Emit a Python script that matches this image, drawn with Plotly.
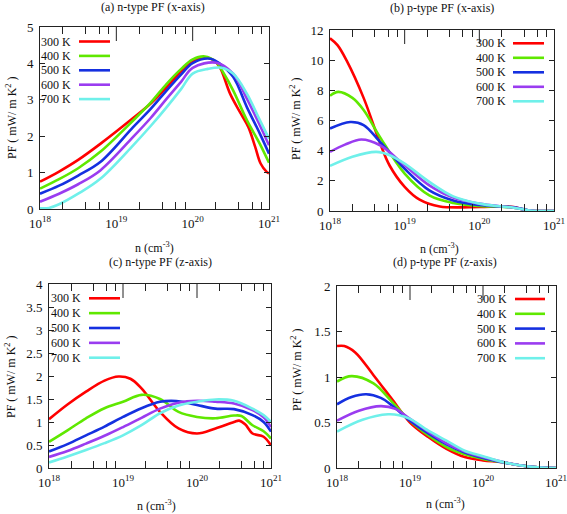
import plotly.graph_objects as go

W, H = 567, 514
TEMPS = ["300 K", "400 K", "500 K", "600 K", "700 K"]
COLORS = ["#ff0000", "#5fe800", "#1530e0", "#9a3cf0", "#6ff0ea"]

# ---- data: log10(n) exponents and PF values (mW/m K^2) ----
# (a) n-type, x-axis
A_X = [
    [18, 18.25, 18.5, 18.79, 19.22, 19.45, 19.66, 19.85, 20, 20.16, 20.28, 20.36, 20.49, 20.62, 20.73, 20.82, 20.89, 20.97, 21],
    [18, 18.25, 18.5, 18.79, 19.22, 19.45, 19.66, 19.85, 20, 20.16, 20.3, 20.4, 20.53, 20.71, 20.88, 21],
    [18, 18.25, 18.5, 18.79, 19.22, 19.45, 19.66, 19.85, 20, 20.23, 20.35, 20.53, 20.71, 20.88, 21],
    [18, 18.25, 18.5, 18.79, 19.22, 19.45, 19.66, 19.85, 20, 20.31, 20.53, 20.71, 20.88, 21],
    [18, 18.12, 18.25, 18.5, 18.79, 19.22, 19.45, 19.66, 19.85, 20, 20.2, 20.38, 20.53, 20.71, 20.88, 21],
]
A_Y = [
    [0.75, 1.03, 1.35, 1.79, 2.5, 2.9, 3.35, 3.78, 4.04, 4.17, 4.08, 3.88, 3.17, 2.66, 2.25, 1.7, 1.25, 1.02, 0.98],
    [0.56, 0.82, 1.12, 1.57, 2.43, 2.92, 3.44, 3.85, 4.11, 4.19, 4.05, 3.75, 3.26, 2.44, 1.79, 1.27],
    [0.42, 0.64, 0.92, 1.29, 2.25, 2.75, 3.26, 3.7, 4.01, 4.13, 4.0, 3.63, 2.8, 2.07, 1.52],
    [0.2, 0.42, 0.68, 1.06, 1.98, 2.5, 3.03, 3.5, 3.88, 4.02, 3.72, 3.03, 2.3, 1.75],
    [0.02, 0.03, 0.13, 0.42, 0.83, 1.75, 2.28, 2.8, 3.3, 3.72, 3.85, 3.88, 3.72, 3.17, 2.44, 1.93],
]
# (b) p-type, x-axis
B_X = [
    [18, 18.1, 18.22, 18.45, 18.67, 18.8, 19, 19.2, 19.47, 20, 20.3, 20.46, 20.6, 20.7, 21],
    [18, 18.11, 18.3, 18.45, 18.67, 19, 19.33, 19.65, 20, 20.3, 20.46, 20.65, 20.75, 21],
    [18, 18.27, 18.45, 18.67, 19, 19.33, 19.65, 20, 20.3, 20.46, 20.65, 20.75, 21],
    [18, 18.2, 18.42, 18.67, 19, 19.33, 19.65, 20, 20.3, 20.46, 20.65, 20.75, 21],
    [18, 18.3, 18.62, 18.8, 19, 19.33, 19.65, 20, 20.3, 20.46, 20.65, 20.75, 21],
]
B_Y = [
    [11.45, 11.0, 10.0, 7.5, 4.5, 3.0, 1.6, 0.75, 0.3, 0.27, 0.3, 0.27, 0.08, 0.02, 0.0],
    [7.64, 7.9, 7.5, 6.7, 4.9, 2.48, 1.04, 0.53, 0.33, 0.28, 0.22, 0.05, 0.0, 0.0],
    [5.47, 5.9, 5.7, 4.58, 2.8, 1.37, 0.7, 0.4, 0.3, 0.25, 0.05, 0.0, 0.0],
    [3.92, 4.4, 4.74, 4.36, 3.03, 1.7, 0.89, 0.49, 0.3, 0.22, 0.05, 0.0, 0.0],
    [2.99, 3.6, 3.92, 3.7, 3.14, 1.93, 0.97, 0.49, 0.3, 0.22, 0.05, 0.0, 0.0],
]
# (c) n-type, z-axis
C_X = [
    [18, 18.25, 18.5, 18.75, 18.94, 19.1, 19.25, 19.5, 19.75, 20, 20.25, 20.5, 20.57, 20.65, 20.75, 20.9, 21],
    [18, 18.25, 18.5, 18.75, 19, 19.25, 19.5, 19.75, 20, 20.25, 20.5, 20.6, 20.75, 20.9, 21],
    [18, 18.25, 18.5, 18.75, 19, 19.25, 19.5, 19.65, 19.8, 20, 20.25, 20.5, 20.75, 20.9, 21],
    [18, 18.25, 18.5, 18.75, 19, 19.25, 19.5, 19.75, 20, 20.25, 20.5, 20.75, 20.9, 21],
    [18, 18.25, 18.5, 18.75, 19, 19.25, 19.5, 19.75, 20, 20.25, 20.5, 20.75, 20.9, 21],
]
C_Y = [
    [1.06, 1.38, 1.66, 1.9, 1.99, 1.94, 1.73, 1.22, 0.86, 0.75, 0.86, 1.0, 1.03, 0.95, 0.75, 0.68, 0.49],
    [0.57, 0.82, 1.08, 1.3, 1.44, 1.59, 1.5, 1.22, 1.11, 1.08, 1.14, 1.13, 0.93, 0.8, 0.64],
    [0.36, 0.52, 0.71, 0.9, 1.11, 1.3, 1.44, 1.46, 1.44, 1.37, 1.29, 1.28, 1.15, 1.0, 0.79],
    [0.24, 0.37, 0.53, 0.7, 0.89, 1.09, 1.29, 1.42, 1.46, 1.44, 1.4, 1.26, 1.1, 0.89],
    [0.12, 0.25, 0.39, 0.54, 0.71, 0.93, 1.19, 1.36, 1.44, 1.49, 1.46, 1.29, 1.15, 1.0],
]
# (d) p-type, z-axis
D_X = [
    [18, 18.1, 18.25, 18.5, 18.75, 19, 19.25, 19.5, 19.75, 20, 20.25, 20.5, 20.75, 21],
    [18, 18.2, 18.5, 18.75, 19, 19.25, 19.5, 19.75, 20, 20.25, 20.5, 20.75, 21],
    [18, 18.2, 18.4, 18.6, 18.75, 19, 19.25, 19.5, 19.75, 20, 20.25, 20.5, 20.75, 21],
    [18, 18.3, 18.6, 18.8, 19, 19.25, 19.5, 19.75, 20, 20.25, 20.5, 20.75, 21],
    [18, 18.35, 18.7, 18.85, 19, 19.25, 19.5, 19.75, 20, 20.25, 20.5, 20.75, 21],
]
D_Y = [
    [1.34, 1.34, 1.27, 1.02, 0.76, 0.5, 0.34, 0.21, 0.12, 0.084, 0.066, 0.03, 0.007, 0.0],
    [0.95, 1.01, 0.93, 0.73, 0.52, 0.36, 0.23, 0.15, 0.10, 0.066, 0.03, 0.007, 0.0],
    [0.70, 0.78, 0.81, 0.77, 0.69, 0.52, 0.38, 0.26, 0.17, 0.11, 0.066, 0.03, 0.007, 0.0],
    [0.52, 0.63, 0.68, 0.65, 0.54, 0.40, 0.27, 0.18, 0.12, 0.07, 0.03, 0.007, 0.0],
    [0.40, 0.53, 0.59, 0.58, 0.54, 0.41, 0.30, 0.19, 0.13, 0.07, 0.03, 0.007, 0.0],
]

TITLES = ["(a) n-type PF (x-axis)", "(b) p-type PF (x-axis)",
          "(c) n-type PF (z-axis)", "(d) p-type PF (z-axis)"]
Y_RANGES = [[0, 5], [0, 12], [0, 4], [0, 2]]
Y_DTICK = [1, 2, 0.5, 0.5]
X_TICKVALS = [1e18, 1e19, 1e20, 1e21]
X_TICKTEXT = ["10<sup>18</sup>", "10<sup>19</sup>", "10<sup>20</sup>", "10<sup>21</sup>"]
TOP_MAJOR = [1e19, 1e20]
MINOR_VALS = [float(m) * 10.0 ** d for d in (18, 19, 20) for m in (2, 4, 6, 8)]

# ---- layout geometry (pixels) ----
PLOT_PX = [  # x0, x1, ytop, ybottom
    (40, 269, 27, 209),
    (330, 554, 30, 211),
    (49, 271, 284, 468),
    (337, 556, 286, 468),
]
TITLE_PX = [(153, 7), (442, 8), (160, 262), (445, 262)]
XT_PX = [(154, 247), (439, 248), (156, 505), (445, 503)]
YT_PX = [(12, 118), (295, 119), (10, 377), (296, 370)]
LEG_PX = [  # text right x, line x0, line x1, first row y, row step
    (73, 79, 110, 41.5, 14.4),
    (507.5, 513, 544, 43.3, 14.5),
    (83, 89, 120, 298.3, 14.85),
    (509, 515, 545, 299, 14.8),
]


def px(x):
    return x / W


def py(y):
    return 1 - y / H


FONT = "Liberation Serif, Times New Roman, serif"
fig = go.Figure()
DATA = [(A_X, A_Y), (B_X, B_Y), (C_X, C_Y), (D_X, D_Y)]
annotations = []
shapes = []
for p, (xs, ys) in enumerate(DATA):
    sfx = "" if p == 0 else str(p + 1)
    for i in range(5):
        fig.add_trace(go.Scatter(
            x=[10.0 ** e for e in xs[i]], y=ys[i], mode="lines",
            line=dict(color=COLORS[i], width=2.6, shape="spline", smoothing=1.0),
            xaxis="x" + sfx, yaxis="y" + sfx, showlegend=False,
            name=TEMPS[i]))
    x0, x1, yt, yb = PLOT_PX[p]
    axcommon = dict(showline=True, linecolor="#222", linewidth=1, mirror="ticks",
                    showgrid=False, zeroline=False, ticks="inside", automargin=False,
                    ticklabeloverflow="allow",
                    tickcolor="#222", tickfont=dict(family=FONT, size=13, color="#111"))
    fig.update_layout(**{
        "xaxis" + sfx: dict(axcommon, type="log", range=[18, 21],
                            domain=[px(x0), px(x1)], anchor="y" + sfx,
                            tickvals=X_TICKVALS, ticktext=X_TICKTEXT, ticklen=0,
                            ticklabelstandoff=2,
                            minor=dict(tickmode="array", tickvals=MINOR_VALS,
                                       ticks="inside", ticklen=7, tickcolor="#222",
                                       showgrid=False)),
        "yaxis" + sfx: dict(axcommon, range=Y_RANGES[p], dtick=Y_DTICK[p], tick0=0,
                            domain=[py(yb), py(yt)], anchor="x" + sfx,
                            ticklen=5, ticklabelstandoff=3),
    })
    # longer decade ticks hanging from the top frame
    frac = 14.0 / (yb - yt)
    for v in TOP_MAJOR:
        shapes.append(dict(type="line", xref="x" + sfx, yref="y" + sfx + " domain",
                           x0=v, x1=v, y0=1, y1=1 - frac,
                           line=dict(color="#222", width=1)))
    tx, ty = TITLE_PX[p]
    annotations.append(dict(text=TITLES[p], x=px(tx), y=py(ty), xref="paper", yref="paper",
                            showarrow=False, xanchor="center", yanchor="middle",
                            font=dict(family=FONT, size=12, color="#111")))
    ax_, ay_ = XT_PX[p]
    annotations.append(dict(text="n (cm<sup>-3</sup>)", x=px(ax_), y=py(ay_),
                            xref="paper", yref="paper", showarrow=False,
                            xanchor="center", yanchor="middle",
                            font=dict(family=FONT, size=12, color="#111")))
    bx, by = YT_PX[p]
    annotations.append(dict(text="PF ( mW/ m K<sup>2</sup> )", x=px(bx), y=py(by),
                            xref="paper", yref="paper", showarrow=False, textangle=-90,
                            xanchor="center", yanchor="middle",
                            font=dict(family=FONT, size=12, color="#111")))
    trx, lx0, lx1, ry0, rstep = LEG_PX[p]
    for i in range(5):
        ry = ry0 + rstep * i
        annotations.append(dict(text=TEMPS[i], x=px(trx), y=py(ry), xref="paper",
                                yref="paper", showarrow=False, xanchor="right",
                                yanchor="middle",
                                font=dict(family=FONT, size=12, color="#111")))
        shapes.append(dict(type="line", xref="paper", yref="paper",
                           x0=px(lx0), x1=px(lx1), y0=py(ry), y1=py(ry),
                           line=dict(color=COLORS[i], width=2.6)))

fig.update_layout(width=W, height=H, margin=dict(l=0, r=0, t=0, b=0, pad=0),
                  font=dict(family=FONT, size=12, color="#111"),
                  paper_bgcolor="white", plot_bgcolor="white",
                  annotations=annotations, shapes=shapes, showlegend=False)
fig.write_html("out.html", config={"displayModeBar": False},
               post_script="document.body.style.margin='0';document.body.style.padding='0';")
